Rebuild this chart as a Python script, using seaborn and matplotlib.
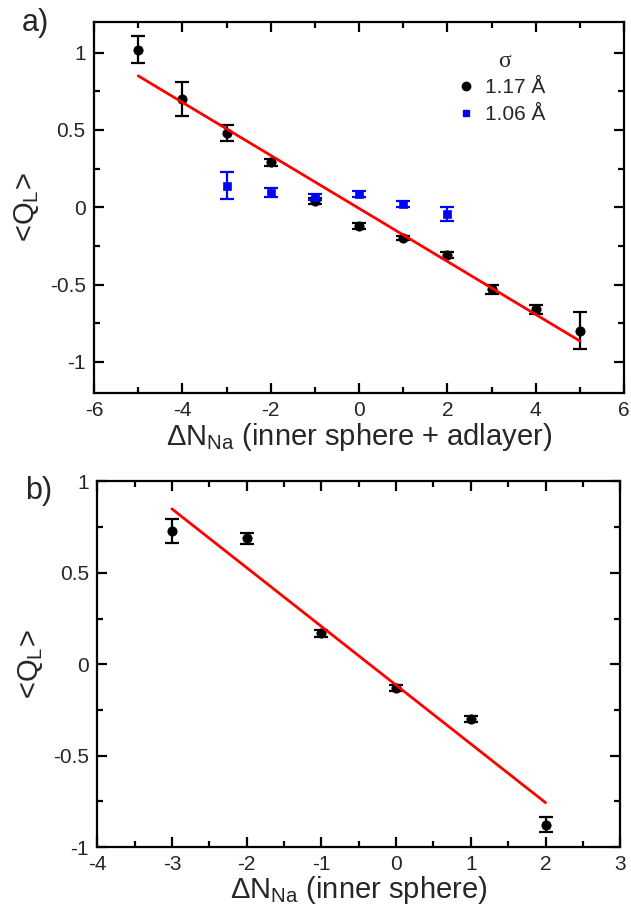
import numpy as np
import pandas as pd
import seaborn as sns
from matplotlib import pyplot as plt
from matplotlib.ticker import MultipleLocator, FormatStrFormatter
from matplotlib.lines import Line2D

sns.set_style("ticks")
plt.rcParams['font.family'] = ['Liberation Sans', 'DejaVu Sans']
plt.rcParams['mathtext.fontset'] = 'custom'
plt.rcParams['mathtext.rm'] = 'Liberation Sans'
plt.rcParams['mathtext.it'] = 'Liberation Sans'
plt.rcParams['axes.unicode_minus'] = False

# panel a) data
a_x_black = [-5, -4, -3, -2, -1, 0, 1, 2, 3, 4, 5]
a_y_black = [1.02, 0.70, 0.48, 0.29, 0.04, -0.12, -0.20, -0.31, -0.53, -0.66, -0.80]
a_err_black = [0.09, 0.11, 0.05, 0.02, 0.02, 0.02, 0.015, 0.02, 0.03, 0.03, 0.12]
a_x_blue = [-3, -2, -1, 0, 1, 2]
a_y_blue = [0.14, 0.095, 0.065, 0.085, 0.02, -0.045]
a_err_blue = [0.085, 0.03, 0.02, 0.02, 0.02, 0.045]
a_fit_x = [-5, 5]
a_fit_y = [0.85, -0.865]

# panel b) data
b_x = [-3, -2, -1, 0, 1, 2]
b_y = [0.73, 0.69, 0.17, -0.13, -0.30, -0.877]
b_err = [0.065, 0.03, 0.02, 0.015, 0.015, 0.04]
b_fit_x = [-3, 2]
b_fit_y = [0.85, -0.757]

legend_labels = ['1.17 Å', '1.06 Å']

fig = plt.figure(figsize=(6.31, 9.05), dpi=100)
ax1 = fig.add_axes([0.149, 0.566, 0.840, 0.410])
ax2 = fig.add_axes([0.154, 0.064, 0.829, 0.404])

def style_axis(ax):
    for s in ax.spines.values():
        s.set_linewidth(1.6)
        s.set_color('black')
    ax.tick_params(which='both', direction='in', top=True, right=True,
                   width=1.6, labelsize=15, color='black')
    ax.tick_params(which='major', length=7, pad=6)
    ax.tick_params(which='minor', length=4)
    ax.xaxis.set_major_formatter(FormatStrFormatter('%g'))
    ax.yaxis.set_major_formatter(FormatStrFormatter('%g'))

# panel a
ax1.errorbar(a_x_black, a_y_black, yerr=a_err_black, fmt='none', ecolor='black',
             elinewidth=1.6, capsize=5, capthick=1.6, zorder=2)
ax1.errorbar(a_x_blue, a_y_blue, yerr=a_err_blue, fmt='none', ecolor='blue',
             elinewidth=1.6, capsize=5, capthick=1.6, zorder=2)
sns.scatterplot(x=a_x_black, y=a_y_black, ax=ax1, color='black', marker='o', s=45,
                edgecolor='black', zorder=3)
sns.scatterplot(x=a_x_blue, y=a_y_blue, ax=ax1, color='blue', marker='s', s=35,
                edgecolor='blue', zorder=3)
sns.lineplot(x=a_fit_x, y=a_fit_y, ax=ax1, color='red', linewidth=2, zorder=4)
ax1.set_xlim(-6, 6)
ax1.set_ylim(-1.2, 1.2)
ax1.xaxis.set_major_locator(MultipleLocator(2))
ax1.xaxis.set_minor_locator(MultipleLocator(1))
ax1.yaxis.set_major_locator(MultipleLocator(0.5))
ax1.yaxis.set_minor_locator(MultipleLocator(0.25))
ax1.set_xlabel(r'$\Delta$N$_{\mathrm{Na}}$ (inner sphere + adlayer)', fontsize=21, labelpad=1)
ax1.set_ylabel(r'<Q$_{\mathrm{L}}$>', fontsize=21, labelpad=6)
style_axis(ax1)

handles = [Line2D([], [], marker='o', color='black', linestyle='none', markersize=6),
           Line2D([], [], marker='s', color='blue', linestyle='none', markersize=5)]
ax1.legend(handles, legend_labels, loc='upper left', bbox_to_anchor=(0.678, 0.848),
           frameon=False, fontsize=15, handletextpad=0.3, labelspacing=0.4,
           handlelength=1.2, borderpad=0, borderaxespad=0)
ax1.text(0.775, 0.892, 'σ', transform=ax1.transAxes, fontsize=17,
         family=['Liberation Serif', 'DejaVu Serif'], ha='center', va='center')

# panel b
ax2.errorbar(b_x, b_y, yerr=b_err, fmt='none', ecolor='black',
             elinewidth=1.6, capsize=5, capthick=1.6, zorder=2)
sns.scatterplot(x=b_x, y=b_y, ax=ax2, color='black', marker='o', s=45,
                edgecolor='black', zorder=3)
sns.lineplot(x=b_fit_x, y=b_fit_y, ax=ax2, color='red', linewidth=2, zorder=4)
ax2.set_xlim(-4, 3)
ax2.set_ylim(-1, 1)
ax2.xaxis.set_major_locator(MultipleLocator(1))
ax2.xaxis.set_minor_locator(MultipleLocator(0.5))
ax2.yaxis.set_major_locator(MultipleLocator(0.5))
ax2.yaxis.set_minor_locator(MultipleLocator(0.25))
ax2.set_xlabel(r'$\Delta$N$_{\mathrm{Na}}$ (inner sphere)', fontsize=21, labelpad=0)
ax2.set_ylabel(r'<Q$_{\mathrm{L}}$>', fontsize=21, labelpad=6)
style_axis(ax2)

fig.text(0.035, 0.975, 'a)', fontsize=22, ha='left', va='center')
fig.text(0.040, 0.458, 'b)', fontsize=22, ha='left', va='center')

plt.savefig('out.png', dpi=100)
plt.close()
